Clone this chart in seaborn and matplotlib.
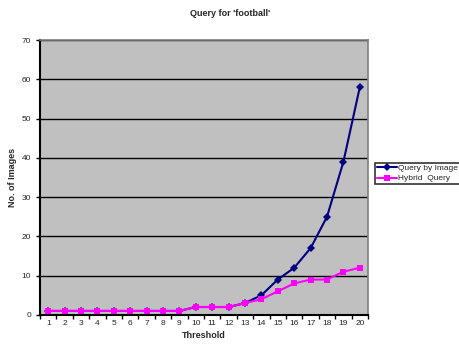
import matplotlib
matplotlib.use("Agg")
import matplotlib.pyplot as plt
import seaborn as sns
import pandas as pd
import numpy as np
from matplotlib.lines import Line2D

thresholds = list(range(1, 21))
query_by_image = [1, 1, 1, 1, 1, 1, 1, 1, 1, 2, 2, 2, 3, 5, 9, 12, 17, 25, 39, 58]
hybrid_query = [1, 1, 1, 1, 1, 1, 1, 1, 1, 2, 2, 2, 3, 4, 6, 8, 9, 9, 11, 12]
series_names = ["Query by Image", "Hybrid  Query"]

sns.set_style("white")
plt.rcParams['font.family'] = ['Liberation Sans', 'DejaVu Sans']

df = pd.DataFrame({
    "Threshold": thresholds * 2,
    "Images": query_by_image + hybrid_query,
    "Series": [series_names[0]] * 20 + [series_names[1]] * 20,
})

fig = plt.figure(figsize=(4.6, 3.46), dpi=100)
ax = fig.add_axes([0.087, 0.09, 0.713, 0.794])
ax.set_facecolor("#C0C0C0")

sns.lineplot(data=df, x="Threshold", y="Images", hue="Series", style="Series",
             palette=["#000080", "#FF00FF"], markers=["D", "s"], dashes=False,
             markersize=4.5, markeredgewidth=0, linewidth=1.5, ax=ax, legend=False)

ax.set_xlim(0.5, 20.5)
ax.set_ylim(0, 70)
ax.set_yticks(range(0, 71, 10))
ax.set_xticks(thresholds)
ax.set_xticks(np.arange(0.5, 21, 1), minor=True)
ax.yaxis.grid(True, color="black", linewidth=1)
ax.set_axisbelow(True)
ax.tick_params(axis="both", which="major", labelsize=6, length=3, width=1, direction="out", color="black")
ax.tick_params(axis="x", which="major", length=0)
ax.tick_params(axis="x", which="minor", length=3, width=1, color="black", bottom=True)
ax.tick_params(axis="y", left=True)
for s in ["top", "right"]:
    ax.spines[s].set_color("#808080")
    ax.spines[s].set_linewidth(1.2)
for s in ["left", "bottom"]:
    ax.spines[s].set_color("black")
    ax.spines[s].set_linewidth(1.5)

ax.set_xlabel("Threshold", fontsize=6.5, fontweight="bold", labelpad=3)
ax.set_ylabel("No. of Images", fontsize=6.5, fontweight="bold", labelpad=3)
fig.suptitle("Query for 'football'", fontsize=6.5, fontweight="bold", y=0.975, x=0.5)

handles = [Line2D([0], [0], color="#000080", marker="D", markersize=4.5, markeredgewidth=0, linewidth=1.5),
           Line2D([0], [0], color="#FF00FF", marker="s", markersize=4.5, markeredgewidth=0, linewidth=1.5)]
leg = fig.legend(handles, series_names, loc="upper left", bbox_to_anchor=(0.815, 0.53),
                 fontsize=6, frameon=True, fancybox=False, edgecolor="black",
                 borderpad=0.2, labelspacing=0.3, handlelength=2.5, handletextpad=0.1,
                 borderaxespad=0)
leg.get_frame().set_linewidth(1.2)

fig.savefig("out.png", dpi=100)
